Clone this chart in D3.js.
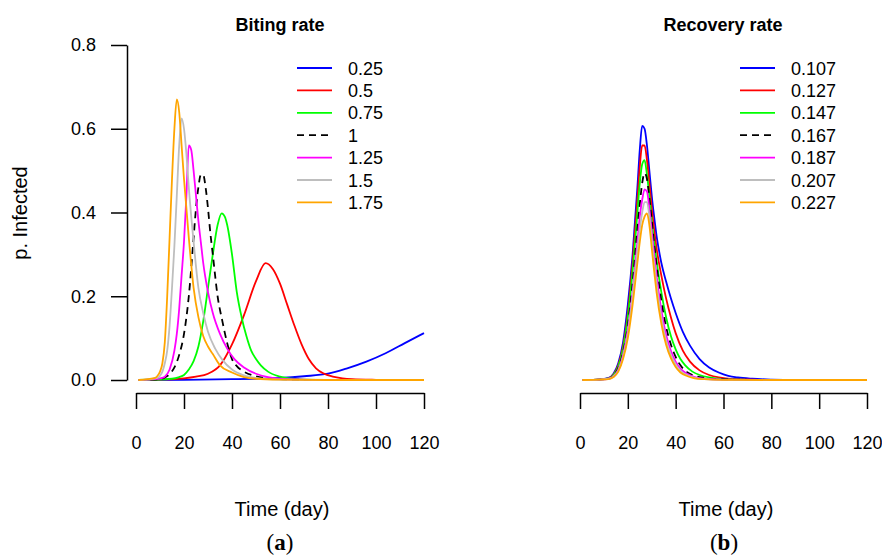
<!DOCTYPE html>
<html>
<head>
<meta charset="utf-8">
<script src="https://cdn.jsdelivr.net/npm/d3@7"></script>
<style>
  body { margin: 0; background: #fff; }
  text { font-family: "Liberation Sans", Arial, sans-serif; fill: #000; }
</style>
</head>
<body>
<script>
// ---- data ----
const xTicks = [0, 20, 40, 60, 80, 100, 120];
const yTicks = [0, 0.2, 0.4, 0.6, 0.8];
const seriesColors = ["#0000ff", "#ff0000", "#00ff00", "#000000", "#ff00ff", "#bebebe", "#ffa500"];
const seriesDashed = [false, false, false, true, false, false, false];

// (a) biting rate
const bitingLabels = ["0.25", "0.5", "0.75", "1", "1.25", "1.5", "1.75"];
const bite025 = [[1,0],[20,0.0005],[40,0.002],[50,0.003],[60,0.005],[70,0.009],[80,0.015],[88,0.028],[96,0.044],[104,0.064],[112,0.088],[120,0.112]];
const bite050 = [[1,0],[10,0.001],[20,0.004],[25,0.008],[30,0.015],[35,0.035],[40,0.085],[45,0.155],[50,0.236],[54,0.279],[57,0.265],[60,0.23],[63,0.18],[66,0.13],[69,0.085],[72,0.05],[75,0.028],[78,0.016],[82,0.008],[86,0.004],[90,0.002],[100,0.0005],[110,0]];
const bite075 = [[1,0],[15,0.003],[18,0.007],[20,0.012],[22,0.025],[24,0.045],[26,0.08],[28,0.14],[30,0.22],[32,0.3],[34,0.37],[35.7,0.398],[37,0.39],[38,0.37],[40,0.3],[42,0.21],[44,0.15],[46,0.105],[48,0.07],[50,0.05],[52,0.035],[55,0.02],[60,0.008],[65,0.003],[70,0.001],[80,0],[110,0]];
const bite100 = [[1,0],[10,0.002],[12,0.006],[14,0.014],[16,0.03],[18,0.06],[20,0.11],[22,0.2],[24,0.34],[25,0.41],[26,0.46],[27,0.49],[28,0.49],[29,0.46],[30,0.41],[31,0.35],[32,0.3],[34,0.2],[36,0.14],[38,0.088],[40,0.05],[42,0.033],[45,0.02],[50,0.009],[55,0.004],[60,0.002],[70,0.0005],[80,0],[110,0]];
const bite125 = [[1,0],[8,0.002],[10,0.004],[12,0.008],[14,0.025],[16,0.07],[17,0.11],[18,0.17],[19,0.25],[20,0.33],[21,0.44],[22,0.56],[23,0.55],[24,0.5],[25,0.44],[26,0.38],[27,0.33],[28,0.28],[30,0.21],[32,0.16],[35,0.11],[38,0.075],[41,0.05],[45,0.03],[50,0.015],[55,0.007],[60,0.003],[70,0.001],[80,0],[110,0]];
const bite150 = [[1,0],[6,0.002],[9,0.005],[10,0.01],[11,0.02],[12,0.04],[13,0.07],[14,0.13],[15,0.22],[16,0.32],[17,0.44],[18,0.56],[19,0.625],[20,0.6],[21,0.54],[22,0.46],[24,0.33],[26,0.22],[28,0.16],[30,0.115],[33,0.075],[36,0.048],[40,0.025],[45,0.011],[50,0.005],[60,0.001],[80,0],[110,0]];
const bite175 = [[1,0],[5,0.002],[8,0.005],[9,0.01],[10,0.02],[11,0.04],[12,0.09],[13,0.2],[14,0.34],[15,0.48],[16,0.6],[17,0.67],[18,0.64],[19,0.56],[20,0.48],[22,0.34],[24,0.22],[26,0.15],[28,0.105],[30,0.08],[32,0.062],[35,0.035],[40,0.018],[45,0.007],[50,0.003],[60,0.001],[80,0],[120,0]];

// (b) recovery rate
const recoveryLabels = ["0.107", "0.127", "0.147", "0.167", "0.187", "0.207", "0.227"];
const rec107 = [[1,0],[8,0.001],[12,0.005],[14,0.015],[16,0.04],[18,0.09],[20,0.18],[22,0.3],[24,0.46],[25,0.55],[26,0.607],[27,0.6],[28,0.56],[29,0.5],[30,0.44],[31,0.39],[32,0.345],[33,0.31],[34,0.28],[36,0.235],[38,0.195],[40,0.16],[43,0.115],[46,0.082],[50,0.05],[54,0.03],[58,0.018],[62,0.01],[66,0.006],[72,0.003],[80,0.001],[90,0],[110,0]];
const rec127 = [[1,0],[8,0.001],[12,0.004],[14,0.013],[16,0.035],[18,0.08],[20,0.16],[22,0.28],[24,0.43],[25,0.51],[26,0.56],[27,0.56],[28,0.525],[29,0.47],[30,0.41],[31,0.36],[32,0.315],[34,0.25],[36,0.195],[38,0.15],[40,0.112],[43,0.07],[46,0.044],[50,0.023],[54,0.012],[58,0.006],[64,0.002],[75,0.0005],[90,0],[110,0]];
const rec147 = [[1,0],[8,0.001],[12,0.004],[14,0.012],[16,0.032],[18,0.075],[20,0.15],[22,0.26],[24,0.4],[25,0.47],[26,0.515],[27,0.525],[28,0.49],[29,0.44],[30,0.38],[31,0.33],[32,0.285],[34,0.21],[36,0.15],[38,0.105],[40,0.073],[42,0.05],[44,0.035],[47,0.02],[50,0.012],[54,0.006],[60,0.002],[70,0.0005],[80,0],[110,0]];
const rec167 = [[1,0],[8,0.001],[12,0.003],[14,0.01],[16,0.028],[18,0.065],[20,0.13],[22,0.23],[24,0.36],[25,0.42],[26,0.47],[27,0.494],[28,0.48],[29,0.435],[30,0.38],[31,0.325],[32,0.275],[34,0.19],[36,0.127],[38,0.085],[40,0.055],[42,0.035],[45,0.018],[48,0.01],[52,0.005],[58,0.002],[70,0.0005],[80,0],[110,0]];
const rec187 = [[1,0],[8,0.001],[12,0.003],[14,0.009],[16,0.025],[18,0.06],[20,0.12],[22,0.21],[24,0.33],[25,0.39],[26,0.43],[27,0.455],[28,0.45],[29,0.41],[30,0.355],[31,0.3],[32,0.25],[34,0.167],[36,0.108],[38,0.07],[40,0.044],[42,0.027],[45,0.014],[48,0.007],[52,0.003],[60,0.001],[80,0],[110,0]];
const rec207 = [[1,0],[8,0.001],[12,0.003],[14,0.008],[16,0.022],[18,0.055],[20,0.11],[22,0.2],[24,0.31],[25,0.36],[26,0.4],[27,0.425],[28,0.425],[29,0.39],[30,0.335],[31,0.28],[32,0.23],[34,0.15],[36,0.095],[38,0.06],[40,0.037],[42,0.022],[45,0.011],[48,0.005],[52,0.002],[60,0.0005],[80,0],[110,0]];
const rec227 = [[1,0],[8,0.001],[12,0.002],[14,0.007],[16,0.02],[18,0.05],[20,0.1],[22,0.18],[24,0.28],[25,0.33],[26,0.37],[27,0.39],[28,0.398],[29,0.37],[30,0.315],[31,0.26],[32,0.21],[34,0.135],[36,0.084],[38,0.052],[40,0.031],[42,0.018],[45,0.009],[48,0.004],[52,0.002],[60,0.0005],[80,0],[120,0]];

const bitingSeries = [bite025, bite050, bite075, bite100, bite125, bite150, bite175];
const recoverySeries = [rec107, rec127, rec147, rec167, rec187, rec207, rec227];

// ---- layout ----
const W = 882, H = 555;
const plotTop = 45, plotBottom = 380, xAxisY = 393, tickLen = 16;

const svg = d3.select("body").append("svg")
    .attr("width", W)
    .attr("height", H);

const y = d3.scaleLinear().domain([0, 0.8]).range([plotBottom, plotTop]);

/**
 * Draw one panel: lines, x axis, title, legend, labels.
 */
function drawPanel(opts) {
    const x = d3.scaleLinear().domain([0, 120]).range([opts.x0, opts.x1]);
    const g = svg.append("g");

    const line = d3.line()
        .x(d => x(d[0]))
        .y(d => y(d[1]))
        .curve(d3.curveMonotoneX);

    opts.series.forEach((pts, i) => {
        g.append("path")
            .datum(pts)
            .attr("d", line)
            .attr("fill", "none")
            .attr("stroke", seriesColors[i])
            .attr("stroke-width", 1.8)
            .attr("stroke-dasharray", seriesDashed[i] ? "7,5" : null);
    });

    // x axis (detached below the plot, R style)
    const xAxis = g.append("g")
        .attr("transform", `translate(0,${xAxisY})`)
        .call(d3.axisBottom(x).tickValues(xTicks).tickSize(tickLen).tickSizeOuter(0).tickPadding(27));
    xAxis.select(".domain").attr("stroke-width", 1.5);
    xAxis.selectAll(".tick line").attr("stroke-width", 1.5);
    xAxis.selectAll("text").attr("font-size", 18).attr("font-family", "Liberation Sans, Arial, sans-serif");

    // title
    g.append("text")
        .attr("x", opts.titleX)
        .attr("y", 31)
        .attr("text-anchor", "middle")
        .attr("font-weight", "bold")
        .attr("font-size", 18)
        .text(opts.title);

    // legend
    const legend = g.append("g");
    opts.labels.forEach((lab, i) => {
        const ly = 68 + i * 22.4;
        legend.append("line")
            .attr("x1", opts.legX).attr("x2", opts.legX + 35)
            .attr("y1", ly).attr("y2", ly)
            .attr("stroke", seriesColors[i])
            .attr("stroke-width", 1.8)
            .attr("stroke-dasharray", seriesDashed[i] ? "7,5" : null);
        legend.append("text")
            .attr("x", opts.legX + 51)
            .attr("y", ly + 6.5)
            .attr("font-size", 18)
            .text(lab);
    });

    // x label and sub caption
    g.append("text")
        .attr("x", opts.xLabelX)
        .attr("y", 516)
        .attr("text-anchor", "middle")
        .attr("font-size", 20)
        .text("Time (day)");
    g.append("text")
        .attr("x", opts.xLabelX - 2)
        .attr("y", 550)
        .attr("text-anchor", "middle")
        .attr("font-size", 23)
        .style("font-family", "Liberation Serif, 'DejaVu Serif', serif")
        .html(`(<tspan font-weight="bold">${opts.tag}</tspan>)`);
}

drawPanel({ x0: 136, x1: 424, series: bitingSeries, labels: bitingLabels,
            title: "Biting rate", titleX: 280, legX: 297, xLabelX: 282, tag: "a" });
drawPanel({ x0: 580, x1: 867, series: recoverySeries, labels: recoveryLabels,
            title: "Recovery rate", titleX: 723, legX: 740, xLabelX: 726, tag: "b" });

// y axis only on the left panel
const yAxis = svg.append("g")
    .attr("transform", "translate(127,0)")
    .call(d3.axisLeft(y).tickValues(yTicks).tickFormat(d3.format(".1f")).tickSize(tickLen).tickSizeOuter(0).tickPadding(15));
yAxis.select(".domain").attr("stroke-width", 1.5);
yAxis.selectAll(".tick line").attr("stroke-width", 1.5);
yAxis.selectAll("text").attr("font-size", 18).attr("font-family", "Liberation Sans, Arial, sans-serif");

svg.append("text")
    .attr("transform", "translate(27,213) rotate(-90)")
    .attr("text-anchor", "middle")
    .attr("font-size", 20)
    .text("p. Infected");
</script>
</body>
</html>
